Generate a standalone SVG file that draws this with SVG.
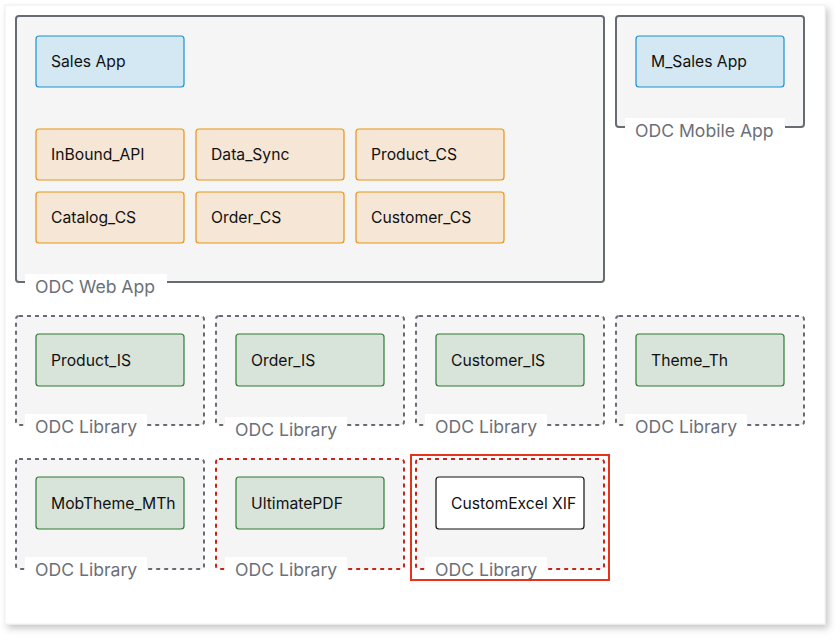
<svg xmlns="http://www.w3.org/2000/svg" width="840" height="640" viewBox="0 0 840 640">
<defs>
<filter id="sh" x="-5%" y="-5%" width="110%" height="110%">
<feDropShadow dx="3" dy="4" stdDeviation="3.5" flood-color="#000" flood-opacity="0.22"/>
</filter>
<style>
.t{font-family:Inter,"Noto Sans","Liberation Sans",sans-serif;font-size:15.7px;fill:#111}
.lb{font-family:Inter,"Noto Sans","Liberation Sans",sans-serif;font-size:17.6px;fill:#6b7079}
.cont{fill:#f5f5f5;stroke:#676b73;stroke-width:2}
.lib{fill:#f5f5f5;stroke:#676b73;stroke-width:2;stroke-dasharray:4 4}
.libr{fill:#f5f5f5;stroke:#c0281c;stroke-width:2;stroke-dasharray:4 4}
.blue{fill:#d3e8f3;stroke:#1a93d0;stroke-width:1.2}
.org{fill:#f5e6d6;stroke:#e69514;stroke-width:1.2}
.grn{fill:#d8e3da;stroke:#2e7d32;stroke-width:1.2}
.wht{fill:#fff;stroke:#111;stroke-width:1.2}
.bg{fill:#fff}
</style>
</defs>
<rect x="0" y="0" width="840" height="640" fill="#fff"/>
<rect x="5" y="5" width="820" height="619" fill="#fff" stroke="#eee" stroke-width="1" filter="url(#sh)"/>

<g id="web-app">
<rect class="cont" x="16" y="16" width="588" height="266" rx="3"/>
<rect class="bg" x="25" y="274" width="142" height="26"/>
<text class="lb" x="35" y="293">ODC Web App</text>
</g>
<g id="mobile-app">
<rect class="cont" x="616" y="16" width="188" height="111" rx="3"/>
<rect class="bg" x="625" y="118" width="160" height="26"/>
<text class="lb" x="635" y="137">ODC Mobile App</text>
</g>

<g id="sales-app"><rect class="blue" x="36" y="36" width="148" height="51" rx="3"/><text class="t" x="51" y="67">Sales App</text></g>
<g id="m-sales-app"><rect class="blue" x="636" y="36" width="148" height="51" rx="3"/><text class="t" x="651" y="67">M_Sales App</text></g>

<g id="inbound-api"><rect class="org" x="36" y="129" width="148" height="51" rx="3"/><text class="t" x="51" y="160">InBound_API</text></g>
<g id="data-sync"><rect class="org" x="196" y="129" width="148" height="51" rx="3"/><text class="t" x="211" y="160">Data_Sync</text></g>
<g id="product-cs"><rect class="org" x="356" y="129" width="148" height="51" rx="3"/><text class="t" x="371" y="160">Product_CS</text></g>
<g id="catalog-cs"><rect class="org" x="36" y="192" width="148" height="51" rx="3"/><text class="t" x="51" y="223">Catalog_CS</text></g>
<g id="order-cs"><rect class="org" x="196" y="192" width="148" height="51" rx="3"/><text class="t" x="211" y="223">Order_CS</text></g>
<g id="customer-cs"><rect class="org" x="356" y="192" width="148" height="51" rx="3"/><text class="t" x="371" y="223">Customer_CS</text></g>

<g id="lib-product-is">
<rect class="lib" x="16" y="316" width="188" height="109" rx="3"/>
<rect class="bg" x="25" y="414" width="122" height="26"/>
<text class="lb" x="35" y="433">ODC Library</text>
<rect class="grn" x="36" y="334" width="148" height="52" rx="3"/><text class="t" x="51" y="366">Product_IS</text>
</g>
<g id="lib-order-is">
<rect class="lib" x="216" y="316" width="188" height="109" rx="3"/>
<rect class="bg" x="225" y="417" width="122" height="26"/>
<text class="lb" x="235" y="436">ODC Library</text>
<rect class="grn" x="236" y="334" width="148" height="52" rx="3"/><text class="t" x="251" y="366">Order_IS</text>
</g>
<g id="lib-customer-is">
<rect class="lib" x="416" y="316" width="188" height="109" rx="3"/>
<rect class="bg" x="425" y="414" width="122" height="26"/>
<text class="lb" x="435" y="433">ODC Library</text>
<rect class="grn" x="436" y="334" width="148" height="52" rx="3"/><text class="t" x="451" y="366">Customer_IS</text>
</g>
<g id="lib-theme-th">
<rect class="lib" x="616" y="316" width="188" height="109" rx="3"/>
<rect class="bg" x="625" y="414" width="122" height="26"/>
<text class="lb" x="635" y="433">ODC Library</text>
<rect class="grn" x="636" y="334" width="148" height="52" rx="3"/><text class="t" x="651" y="366">Theme_Th</text>
</g>

<g id="lib-mobtheme">
<rect class="lib" x="16" y="459" width="188" height="110" rx="3"/>
<rect class="bg" x="25" y="557" width="122" height="26"/>
<text class="lb" x="35" y="576">ODC Library</text>
<rect class="grn" x="36" y="477" width="148" height="52" rx="3"/><text class="t" x="51" y="509">MobTheme_MTh</text>
</g>
<g id="lib-ultimatepdf">
<rect class="libr" x="216" y="459" width="188" height="110" rx="3"/>
<rect class="bg" x="225" y="557" width="122" height="26"/>
<text class="lb" x="235" y="576">ODC Library</text>
<rect class="grn" x="236" y="477" width="148" height="52" rx="3"/><text class="t" x="251" y="509">UltimatePDF</text>
</g>
<g id="lib-customexcel">
<rect class="libr" x="416" y="459" width="188" height="110" rx="3"/>
<rect class="bg" x="425" y="557" width="122" height="26"/>
<text class="lb" x="435" y="576">ODC Library</text>
<rect class="wht" x="436" y="477" width="148" height="52" rx="3"/><text class="t" x="451" y="509">CustomExcel XIF</text>
<rect x="411" y="455" width="198" height="125" fill="none" stroke="#e8321a" stroke-width="2"/>
</g>

<g id="connectors"></g>
</svg>
